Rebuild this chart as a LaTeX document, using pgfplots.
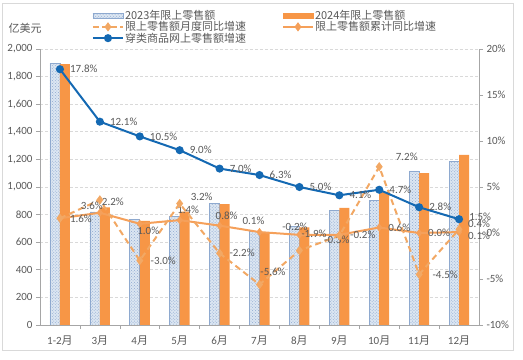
\documentclass[border=0pt]{standalone}
\usepackage{fontspec}
\setmainfont{Carlito}
\newfontfamily\cjk{Noto Sans CJK SC}
\usepackage{pgfplots}
\pgfplotsset{compat=1.18}
\usetikzlibrary{patterns}
\definecolor{txt}{HTML}{595959}
\definecolor{gridc}{HTML}{D9D9D9}
\definecolor{axisc}{HTML}{A6A6A6}
\definecolor{orb}{HTML}{F79646}
\definecolor{orl}{HTML}{F5A05A}
\definecolor{ord}{HTML}{F2A864}
\definecolor{bluel}{HTML}{1469B3}
\definecolor{hfill}{HTML}{DCE6F2}
\definecolor{hdot}{HTML}{8EAAD0}
\definecolor{hedge}{HTML}{8EA9CF}
\newcommand{\yue}{{\cjk 月}}
\tikzset{lbl/.style={font=\fontsize{11bp}{12bp}\selectfont, text=txt, inner sep=0pt}}
\pgfplotsset{
 barlegend/.style={legend image code/.code={\draw[##1] (0bp,-2.5bp) rectangle (30bp,2.5bp);}},
 linelegend/.style={legend image code/.code={\draw[mark repeat=2,mark phase=2,##1] plot coordinates {(0bp,0bp) (15bp,0bp) (30bp,0bp)};}},
}
\begin{document}
\begin{tikzpicture}[font=\fontsize{11bp}{12bp}\selectfont]
\path[use as bounding box] (-40bp,-35bp) rectangle (483bp,325bp);
\draw[gridc, line width=0.8bp] (-38bp,-25bp) rectangle (473bp,322bp);
\node[lbl, font=\cjk\fontsize{11bp}{12bp}\selectfont] at (-15bp,297bp) {亿美元};
\begin{axis}[
 scale only axis, width=439bp, height=276bp,
 xmin=-0.5, xmax=10.5, ymin=0, ymax=2000,
 axis x line*=bottom, axis y line*=left,
 axis line style={axisc, line width=0.6bp},
 tick align=outside, major tick length=4bp, minor tick length=4bp,
 ytick={0,200,...,2000},
 yticklabels={0,200,400,600,800,{1,000},{1,200},{1,400},{1,600},{1,800},{2,000}},
 ytick style={axisc, line width=0.6bp},
 xtick={0,...,10},
 xticklabels={1-2\yue,3\yue,4\yue,5\yue,6\yue,7\yue,8\yue,9\yue,10\yue,11\yue,12\yue},
 major x tick style={draw=none},
 minor xtick={0.5,1.5,...,9.5},
 minor x tick style={axisc, line width=0.6bp},
 ymajorgrids,
 major grid style={gridc, dash pattern=on 3bp off 2bp, line width=0.6bp},
 tick label style={text=txt, font=\fontsize{11bp}{12bp}\selectfont},
 xticklabel style={yshift=-3bp},
]
\addplot[ybar, bar width=10bp, bar shift=-5bp, draw=hedge, line width=0.6bp, fill=hfill,
  postaction={pattern=crosshatch dots, pattern color=hdot}]
 coordinates {(0,1898) (1,819) (2,766) (3,785) (4,884) (5,676) (6,714) (7,832) (8,905) (9,1116) (10,1183)};
\addplot[ybar, bar width=10bp, bar shift=5bp, draw=none, fill=orb]
 coordinates {(0,1890) (1,852) (2,754) (3,821) (4,876) (5,670) (6,708) (7,848) (8,965) (9,1100) (10,1232)};
\end{axis}
\begin{axis}[
 scale only axis, width=439bp, height=276bp,
 xmin=-0.5, xmax=10.5, ymin=-10, ymax=20,
 axis x line=none, axis y line*=right, clip=false,
 axis line style={axisc, line width=0.6bp},
 tick align=outside, major tick length=4bp,
 ytick={-10,-5,...,20},
 yticklabels={-10\%,-5\%,0\%,5\%,10\%,15\%,20\%},
 ytick style={axisc, line width=0.6bp},
 tick label style={text=txt, font=\fontsize{11bp}{12bp}\selectfont},
 legend columns=2,
 legend cell align=left,
 legend style={at={(0.118,1.145)}, anchor=north west, draw=none, fill=none,
   font=\cjk\fontsize{11bp}{11bp}\selectfont, text=txt,
   row sep=-1.5bp, inner sep=0pt, nodes={inner sep=1bp},
   /tikz/column 2/.style={column sep=35bp}},
]
\addlegendimage{barlegend, draw=hedge, fill=hfill, postaction={pattern=crosshatch dots, pattern color=hdot}}
\addlegendentry{2023年限上零售额}
\addlegendimage{barlegend, draw=orb, fill=orb}
\addlegendentry{2024年限上零售额}
\addlegendimage{linelegend, ord, line width=2bp, dash pattern=on 6bp off 3bp, mark=diamond*, mark size=3bp, mark options={solid, fill=ord}}
\addlegendentry{限上零售额月度同比增速}
\addlegendimage{linelegend, orl, line width=2bp, mark=diamond*, mark size=3bp, mark options={fill=orl}}
\addlegendentry{限上零售额累计同比增速}
\addlegendimage{linelegend, bluel, line width=2bp, mark=*, mark size=3bp, mark options={fill=bluel}}
\addlegendentry{穿类商品网上零售额增速}
% cumulative
\addplot[orl, line width=2bp, mark=diamond*, mark size=2.5bp, mark options={fill=orl}]
 coordinates {(0,1.6) (1,2.2) (2,1.0) (3,1.4) (4,0.8) (5,0.1) (6,-0.2) (7,-0.2) (8,0.6) (9,0.0) (10,0.1)};
% monthly
\addplot[ord, line width=2bp, dash pattern=on 6bp off 4bp, mark=diamond*, mark size=3bp, mark options={solid, fill=ord}]
 coordinates {(0,1.6) (1,3.6) (2,-3.0) (3,3.2) (4,-2.2) (5,-5.6) (6,-1.9) (7,-0.3) (8,7.2) (9,-4.5) (10,0.4)};
% online clothing
\addplot[bluel, line width=2bp, mark=*, mark size=3bp, mark options={fill=bluel}]
 coordinates {(0,17.8) (1,12.1) (2,10.5) (3,9.0) (4,7.0) (5,6.3) (6,5.0) (7,4.1) (8,4.7) (9,2.8) (10,1.5)};
% blue labels
\node[lbl, anchor=west, xshift=10bp] at (axis cs:0,17.8) {17.8\%};
\node[lbl, anchor=west, xshift=10bp] at (axis cs:1,12.1) {12.1\%};
\node[lbl, anchor=west, xshift=10bp] at (axis cs:2,10.5) {10.5\%};
\node[lbl, anchor=west, xshift=10bp] at (axis cs:3,9.0) {9.0\%};
\node[lbl, anchor=west, xshift=10bp] at (axis cs:4,7.0) {7.0\%};
\node[lbl, anchor=west, xshift=10bp] at (axis cs:5,6.3) {6.3\%};
\node[lbl, anchor=west, xshift=10bp] at (axis cs:6,5.0) {5.0\%};
\node[lbl, anchor=west, xshift=10bp] at (axis cs:7,4.1) {4.1\%};
\node[lbl, anchor=west, xshift=10bp] at (axis cs:8,4.7) {4.7\%};
\node[lbl, anchor=west, xshift=10bp] at (axis cs:9,2.8) {2.8\%};
\node[lbl, anchor=west, xshift=10bp, yshift=2bp] at (axis cs:10,1.5) {1.5\%};
% cumulative labels
\node[lbl, xshift=21bp, yshift=-1bp] at (axis cs:0,1.6) {1.6\%};
\node[lbl, xshift=13bp, yshift=11bp] at (axis cs:1,2.2) {2.2\%};
\node[lbl, xshift=8.5bp, yshift=-7bp] at (axis cs:2,1.0) {1.0\%};
\node[lbl, xshift=8.5bp, yshift=10bp] at (axis cs:3,1.4) {1.4\%};
\node[lbl, xshift=7bp, yshift=9.6bp] at (axis cs:4,0.8) {0.8\%};
\node[lbl, xshift=-6bp, yshift=11bp] at (axis cs:5,0.1) {0.1\%};
\node[lbl, xshift=-4.5bp, yshift=8bp] at (axis cs:6,-0.2) {-0.2\%};
\node[lbl, xshift=23.5bp, yshift=0bp] at (axis cs:7,-0.2) {-0.2\%};
\node[lbl, xshift=20bp, yshift=0bp] at (axis cs:8,0.6) {0.6\%};
\node[lbl, xshift=20bp, yshift=0bp] at (axis cs:9,0.0) {0.0\%};
\node[lbl, xshift=20bp, yshift=-4bp] at (axis cs:10,0.1) {0.1\%};
% monthly labels
\node[lbl, xshift=-8bp, yshift=-6bp] at (axis cs:1,3.6) {3.6\%};
\node[lbl, xshift=23.5bp, yshift=0bp] at (axis cs:2,-3.0) {-3.0\%};
\node[lbl, xshift=22bp, yshift=6.6bp] at (axis cs:3,3.2) {3.2\%};
\node[lbl, xshift=22.5bp, yshift=0bp] at (axis cs:4,-2.2) {-2.2\%};
\node[lbl, xshift=13.5bp, yshift=12.5bp] at (axis cs:5,-5.6) {-5.6\%};
\node[lbl, xshift=14.5bp, yshift=16.5bp] at (axis cs:6,-1.9) {-1.9\%};
\node[lbl, xshift=-2.5bp, yshift=-4bp] at (axis cs:7,-0.3) {-0.3\%};
\node[lbl, xshift=27.5bp, yshift=10bp] at (axis cs:8,7.2) {7.2\%};
\node[lbl, xshift=26bp, yshift=0bp] at (axis cs:9,-4.5) {-4.5\%};
\node[lbl, xshift=20bp, yshift=6bp] at (axis cs:10,0.4) {0.4\%};
\end{axis}
\end{tikzpicture}
\end{document}
